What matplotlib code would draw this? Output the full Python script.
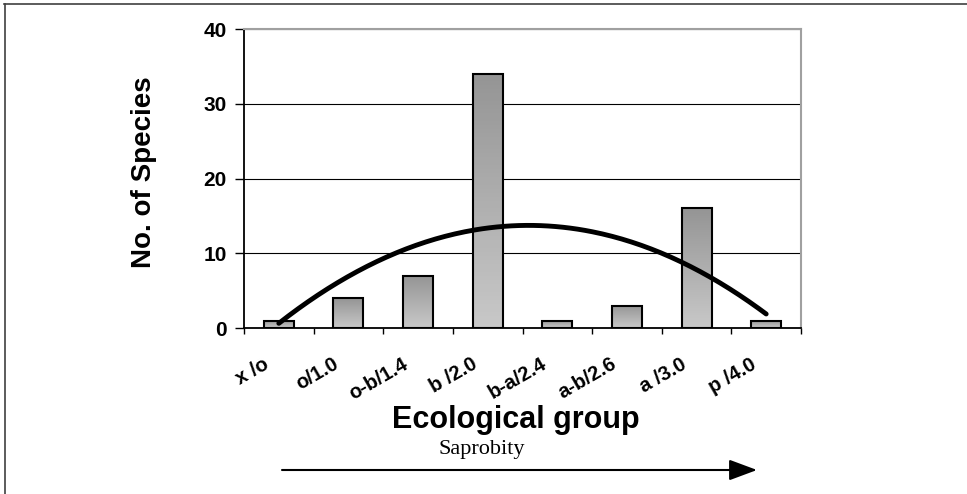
import numpy as np
import matplotlib
matplotlib.use('Agg')
import matplotlib.pyplot as plt
from matplotlib.colors import LinearSegmentedColormap
from matplotlib.patches import FancyArrowPatch
from matplotlib.lines import Line2D
from matplotlib.transforms import ScaledTranslation

plt.rcParams['font.family'] = ['Liberation Sans', 'DejaVu Sans']

# data
groups = ['x /o', 'o/1.0', 'o-b/1.4', 'b /2.0', 'b-a/2.4', 'a-b/2.6', 'a /3.0', 'p /4.0']
species = [1, 4, 7, 34, 1, 3, 16, 1]
y_ticks = [0, 10, 20, 30, 40]

W, H = 967, 494
fig = plt.figure(figsize=(W / 100, H / 100), dpi=100)
ax = fig.add_axes([244 / W, 1 - 328 / H, (801 - 244) / W, (328 - 29) / H])

x = np.arange(len(groups))
bars = ax.bar(x, species, width=0.43, facecolor='none', edgecolor='black',
              linewidth=1.5, zorder=3)

# gray gradient fill, darker on top like the Excel bars
cmap = LinearSegmentedColormap.from_list('bargray', ['#c8c8c8', '#959595'])
grad = np.linspace(0, 1, 64).reshape(-1, 1)
for b in bars:
    x0, y0 = b.get_x(), b.get_y()
    im = ax.imshow(grad, extent=[x0, x0 + b.get_width(), y0, y0 + b.get_height()],
                   origin='lower', aspect='auto', cmap=cmap, zorder=2)
    im.set_clip_path(b)

# 2nd order polynomial trend line
coef = np.polyfit(x, species, 2)
xs = np.linspace(x[0], x[-1], 200)
ax.plot(xs, np.polyval(coef, xs), color='black', lw=3.5, zorder=4,
        solid_capstyle='round')

ax.set_xlim(-0.5, len(groups) - 0.5)
ax.set_ylim(0, 40)
ax.set_yticks(y_ticks)
ax.yaxis.grid(True, color='black', lw=0.8)
ax.set_axisbelow(True)

for s in ['top', 'right']:
    ax.spines[s].set_color('#a0a0a0')
    ax.spines[s].set_linewidth(1.5)
for s in ['left', 'bottom']:
    ax.spines[s].set_color('black')
    ax.spines[s].set_linewidth(1.3)

ax.tick_params(axis='y', direction='out', length=6.5, width=1, pad=6)
for lab in ax.get_yticklabels():
    lab.set_fontweight('bold')
    lab.set_fontsize(15)

# category boundary ticks, labels on minor ticks at the centres
ax.set_xticks(np.arange(-0.5, len(groups)))
ax.set_xticklabels([])
ax.tick_params(axis='x', which='major', direction='out', length=4.5, width=1)
ax.set_xticks(x, minor=True)
ax.set_xticklabels(groups, minor=True, rotation=30, ha='right')
ax.tick_params(axis='x', which='minor', length=0, pad=19)
off = ScaledTranslation(-7 / 100, 0, fig.dpi_scale_trans)
for lab in ax.xaxis.get_minorticklabels():
    lab.set_fontsize(14.5)
    lab.set_fontweight('bold')
    lab.set_transform(lab.get_transform() + off)

fig.text(144 / W, 1 - 172 / H, 'No. of Species', rotation=90, ha='center',
         va='center', fontsize=20, fontweight='bold')
fig.text(516 / W, 1 - 428 / H, 'Ecological group', ha='center', va='baseline',
         fontsize=22, fontweight='bold')
fig.text(482 / W, 1 - 454 / H, 'Saprobity', ha='center', va='baseline',
         fontsize=16, family='Liberation Serif')

arrow = FancyArrowPatch((282 / W, 1 - 470 / H), (757 / W, 1 - 470 / H),
                        transform=fig.transFigure, arrowstyle='-|>,head_length=0.86,head_width=0.32',
                        mutation_scale=20, color='black', lw=1.5,
                        shrinkA=0, shrinkB=0)
fig.add_artist(arrow)

# frame lines at top and left of the picture
fig.add_artist(Line2D([4 / W, 1], [1 - 4.5 / H, 1 - 4.5 / H], transform=fig.transFigure,
                      color='#404040', lw=1.2))
fig.add_artist(Line2D([4.5 / W, 4.5 / W], [0, 1 - 4.5 / H], transform=fig.transFigure,
                      color='#404040', lw=1.2))

fig.savefig('out.png', dpi=100)
